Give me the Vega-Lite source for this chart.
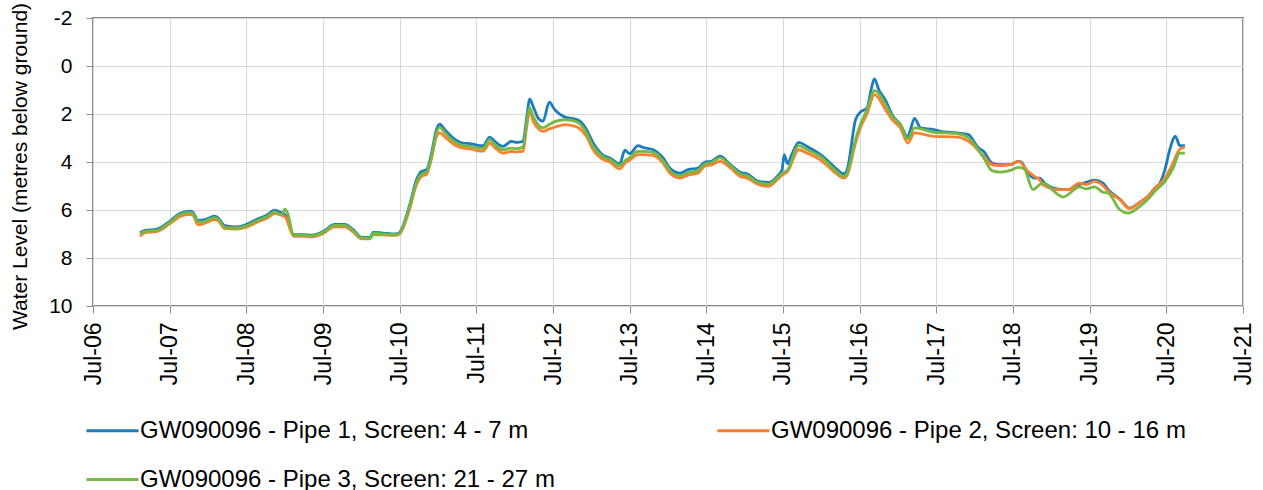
{
  "$schema": "https://vega.github.io/schema/vega-lite/v6.json",
  "width": 1150,
  "height": 288,
  "autosize": {"type": "none"},
  "padding": {"left": 93, "top": 18, "right": 20, "bottom": 184},
  "background": "white",
  "config": {
    "font": "Liberation Sans",
    "view": {"stroke": "#8a8a8a", "strokeWidth": 2},
    "axis": {"domain": false, "gridColor": "#d9d9d9", "gridWidth": 1, "tickColor": "#8a8a8a", "tickSize": 7, "labelColor": "#000000", "titleColor": "#000000"},
    "legend": {"labelColor": "#000000"}
  },
  "datasets": {
    "p1": [
      {"date":"2007-02-10","level":6.95},{"date":"2007-03-03","level":6.86},{"date":"2007-05-01","level":6.80},{"date":"2007-07-01","level":6.47},{"date":"2007-08-18","level":6.15},{"date":"2007-10-05","level":6.05},{"date":"2007-10-20","level":6.10},{"date":"2007-11-14","level":6.43},{"date":"2007-12-16","level":6.40},{"date":"2008-02-01","level":6.26},{"date":"2008-02-17","level":6.33},{"date":"2008-03-20","level":6.65},{"date":"2008-05-15","level":6.70},{"date":"2008-07-01","level":6.60},{"date":"2008-08-18","level":6.40},{"date":"2008-10-05","level":6.22},{"date":"2008-11-14","level":6.01},{"date":"2008-12-15","level":6.12},{"date":"2009-01-01","level":6.20},{"date":"2009-02-12","level":7.03},{"date":"2009-03-28","level":7.03},{"date":"2009-05-08","level":7.05},{"date":"2009-07-01","level":6.90},{"date":"2009-08-25","level":6.60},{"date":"2009-10-12","level":6.60},{"date":"2009-11-22","level":6.82},{"date":"2010-01-01","level":7.14},{"date":"2010-02-10","level":7.14},{"date":"2010-02-25","level":6.93},{"date":"2010-04-12","level":6.96},{"date":"2010-06-15","level":7.00},{"date":"2010-07-01","level":6.93},{"date":"2010-08-18","level":5.78},{"date":"2010-09-19","level":4.74},{"date":"2010-10-13","level":4.39},{"date":"2010-11-06","level":4.32},{"date":"2010-11-30","level":3.63},{"date":"2010-12-23","level":2.65},{"date":"2011-01-08","level":2.42},{"date":"2011-02-01","level":2.65},{"date":"2011-03-13","level":3.00},{"date":"2011-04-30","level":3.21},{"date":"2011-06-09","level":3.24},{"date":"2011-07-17","level":3.32},{"date":"2011-08-03","level":3.32},{"date":"2011-09-03","level":2.96},{"date":"2011-09-27","level":3.14},{"date":"2011-11-06","level":3.35},{"date":"2011-12-15","level":3.14},{"date":"2012-01-08","level":3.18},{"date":"2012-02-09","level":3.14},{"date":"2012-02-25","level":2.24},{"date":"2012-03-12","level":1.38},{"date":"2012-03-28","level":1.68},{"date":"2012-04-21","level":2.17},{"date":"2012-05-14","level":2.30},{"date":"2012-06-13","level":1.51},{"date":"2012-07-09","level":1.82},{"date":"2012-08-26","level":2.13},{"date":"2012-10-13","level":2.21},{"date":"2012-11-06","level":2.30},{"date":"2012-12-07","level":2.65},{"date":"2013-01-08","level":3.21},{"date":"2013-02-25","level":3.72},{"date":"2013-03-28","level":3.83},{"date":"2013-05-15","level":4.07},{"date":"2013-06-08","level":3.51},{"date":"2013-07-01","level":3.65},{"date":"2013-08-10","level":3.32},{"date":"2013-09-01","level":3.39},{"date":"2013-10-21","level":3.49},{"date":"2013-12-07","level":3.83},{"date":"2014-01-08","level":4.25},{"date":"2014-02-25","level":4.46},{"date":"2014-04-05","level":4.32},{"date":"2014-05-23","level":4.25},{"date":"2014-06-23","level":4.01},{"date":"2014-07-25","level":3.97},{"date":"2014-09-04","level":3.76},{"date":"2014-10-24","level":4.11},{"date":"2014-12-10","level":4.43},{"date":"2015-01-11","level":4.49},{"date":"2015-03-08","level":4.81},{"date":"2015-04-25","level":4.85},{"date":"2015-06-04","level":4.60},{"date":"2015-06-27","level":4.32},{"date":"2015-07-07","level":3.69},{"date":"2015-07-23","level":4.07},{"date":"2015-08-12","level":3.69},{"date":"2015-09-14","level":3.18},{"date":"2015-10-24","level":3.35},{"date":"2016-01-04","level":3.74},{"date":"2016-02-28","level":4.18},{"date":"2016-04-16","level":4.49},{"date":"2016-05-02","level":4.32},{"date":"2016-06-11","level":2.24},{"date":"2016-07-04","level":1.92},{"date":"2016-08-05","level":1.75},{"date":"2016-08-24","level":0.99},{"date":"2016-09-09","level":0.54},{"date":"2016-09-30","level":0.99},{"date":"2016-11-01","level":1.43},{"date":"2016-12-02","level":2.03},{"date":"2017-01-11","level":2.44},{"date":"2017-02-15","level":2.96},{"date":"2017-02-28","level":2.65},{"date":"2017-03-19","level":2.18},{"date":"2017-04-17","level":2.58},{"date":"2017-06-19","level":2.65},{"date":"2017-07-20","level":2.72},{"date":"2017-10-08","level":2.79},{"date":"2017-12-02","level":2.86},{"date":"2017-12-26","level":3.14},{"date":"2018-01-19","level":3.42},{"date":"2018-02-12","level":3.56},{"date":"2018-03-23","level":4.04},{"date":"2018-05-02","level":4.11},{"date":"2018-06-19","level":4.11},{"date":"2018-07-28","level":3.97},{"date":"2018-08-09","level":4.00},{"date":"2018-09-10","level":4.46},{"date":"2018-10-12","level":4.67},{"date":"2018-11-05","level":4.67},{"date":"2018-11-29","level":4.88},{"date":"2019-02-01","level":5.13},{"date":"2019-03-20","level":5.15},{"date":"2019-05-15","level":4.94},{"date":"2019-06-15","level":4.85},{"date":"2019-07-25","level":4.76},{"date":"2019-09-03","level":4.88},{"date":"2019-09-27","level":5.15},{"date":"2019-11-22","level":5.54},{"date":"2020-01-08","level":5.92},{"date":"2020-02-25","level":5.68},{"date":"2020-04-05","level":5.43},{"date":"2020-05-07","level":5.08},{"date":"2020-05-31","level":4.88},{"date":"2020-06-24","level":4.32},{"date":"2020-07-17","level":3.49},{"date":"2020-08-13","level":2.93},{"date":"2020-09-03","level":3.32},{"date":"2020-09-27","level":3.32}
    ],
    "p2": [
      {"date":"2007-02-10","level":7.10},{"date":"2007-03-03","level":6.95},{"date":"2007-05-01","level":6.90},{"date":"2007-07-01","level":6.58},{"date":"2007-08-18","level":6.28},{"date":"2007-10-05","level":6.18},{"date":"2007-10-20","level":6.22},{"date":"2007-11-14","level":6.62},{"date":"2007-12-16","level":6.55},{"date":"2008-02-01","level":6.40},{"date":"2008-02-17","level":6.45},{"date":"2008-03-20","level":6.78},{"date":"2008-05-15","level":6.80},{"date":"2008-07-01","level":6.72},{"date":"2008-08-18","level":6.52},{"date":"2008-10-05","level":6.35},{"date":"2008-11-14","level":6.15},{"date":"2008-12-15","level":6.22},{"date":"2009-01-01","level":6.28},{"date":"2009-02-12","level":7.10},{"date":"2009-03-28","level":7.10},{"date":"2009-05-08","level":7.12},{"date":"2009-07-01","level":6.98},{"date":"2009-08-25","level":6.70},{"date":"2009-10-12","level":6.70},{"date":"2009-11-22","level":6.92},{"date":"2010-01-01","level":7.20},{"date":"2010-02-10","level":7.20},{"date":"2010-02-25","level":7.02},{"date":"2010-04-12","level":7.04},{"date":"2010-06-15","level":7.06},{"date":"2010-07-01","level":7.00},{"date":"2010-08-18","level":5.95},{"date":"2010-09-19","level":4.95},{"date":"2010-10-13","level":4.60},{"date":"2010-11-06","level":4.52},{"date":"2010-11-30","level":3.85},{"date":"2010-12-23","level":2.95},{"date":"2011-01-08","level":2.79},{"date":"2011-02-01","level":2.95},{"date":"2011-03-13","level":3.25},{"date":"2011-04-30","level":3.42},{"date":"2011-06-09","level":3.46},{"date":"2011-07-17","level":3.55},{"date":"2011-08-03","level":3.55},{"date":"2011-09-03","level":3.21},{"date":"2011-09-27","level":3.40},{"date":"2011-11-06","level":3.63},{"date":"2011-12-15","level":3.56},{"date":"2012-01-08","level":3.58},{"date":"2012-02-09","level":3.56},{"date":"2012-02-25","level":2.60},{"date":"2012-03-12","level":1.90},{"date":"2012-03-28","level":2.30},{"date":"2012-04-21","level":2.60},{"date":"2012-05-14","level":2.72},{"date":"2012-06-13","level":2.62},{"date":"2012-07-09","level":2.55},{"date":"2012-08-26","level":2.44},{"date":"2012-10-13","level":2.51},{"date":"2012-11-06","level":2.62},{"date":"2012-12-07","level":2.93},{"date":"2013-01-08","level":3.49},{"date":"2013-02-25","level":3.90},{"date":"2013-03-28","level":4.00},{"date":"2013-05-15","level":4.29},{"date":"2013-06-08","level":4.05},{"date":"2013-07-01","level":3.92},{"date":"2013-08-10","level":3.69},{"date":"2013-09-01","level":3.69},{"date":"2013-10-21","level":3.72},{"date":"2013-12-07","level":4.05},{"date":"2014-01-08","level":4.46},{"date":"2014-02-25","level":4.67},{"date":"2014-04-05","level":4.55},{"date":"2014-05-23","level":4.46},{"date":"2014-06-23","level":4.18},{"date":"2014-07-25","level":4.12},{"date":"2014-09-04","level":3.97},{"date":"2014-10-24","level":4.25},{"date":"2014-12-10","level":4.60},{"date":"2015-01-11","level":4.67},{"date":"2015-03-08","level":4.94},{"date":"2015-04-25","level":5.01},{"date":"2015-06-04","level":4.74},{"date":"2015-06-27","level":4.55},{"date":"2015-07-23","level":4.40},{"date":"2015-09-14","level":3.49},{"date":"2015-10-24","level":3.63},{"date":"2016-01-04","level":3.97},{"date":"2016-02-28","level":4.39},{"date":"2016-04-16","level":4.67},{"date":"2016-05-02","level":4.55},{"date":"2016-06-11","level":3.21},{"date":"2016-07-04","level":2.58},{"date":"2016-08-05","level":1.99},{"date":"2016-09-09","level":1.19},{"date":"2016-11-01","level":1.82},{"date":"2016-12-02","level":2.24},{"date":"2017-01-11","level":2.58},{"date":"2017-02-15","level":3.21},{"date":"2017-03-19","level":2.79},{"date":"2017-06-19","level":2.93},{"date":"2017-10-08","level":2.96},{"date":"2017-12-02","level":3.14},{"date":"2018-02-12","level":3.76},{"date":"2018-03-23","level":4.11},{"date":"2018-05-02","level":4.15},{"date":"2018-06-19","level":4.11},{"date":"2018-07-28","level":3.97},{"date":"2018-09-10","level":4.39},{"date":"2018-10-12","level":4.60},{"date":"2018-11-05","level":4.74},{"date":"2018-11-20","level":4.94},{"date":"2019-02-01","level":5.15},{"date":"2019-03-20","level":5.15},{"date":"2019-05-15","level":4.88},{"date":"2019-06-15","level":4.94},{"date":"2019-07-25","level":4.81},{"date":"2019-09-03","level":4.99},{"date":"2019-09-27","level":5.22},{"date":"2019-11-22","level":5.57},{"date":"2020-01-08","level":5.94},{"date":"2020-02-25","level":5.68},{"date":"2020-04-05","level":5.42},{"date":"2020-05-07","level":5.10},{"date":"2020-06-24","level":4.68},{"date":"2020-08-02","level":4.04},{"date":"2020-09-03","level":3.46},{"date":"2020-09-27","level":3.39}
    ],
    "p3": [
      {"date":"2007-02-10","level":7.00},{"date":"2007-03-03","level":6.90},{"date":"2007-05-01","level":6.85},{"date":"2007-07-01","level":6.52},{"date":"2007-08-18","level":6.20},{"date":"2007-10-05","level":6.10},{"date":"2007-10-20","level":6.15},{"date":"2007-11-14","level":6.50},{"date":"2007-12-16","level":6.47},{"date":"2008-02-01","level":6.32},{"date":"2008-02-17","level":6.38},{"date":"2008-03-20","level":6.72},{"date":"2008-05-15","level":6.75},{"date":"2008-07-01","level":6.66},{"date":"2008-08-18","level":6.46},{"date":"2008-10-05","level":6.28},{"date":"2008-11-14","level":6.08},{"date":"2008-12-15","level":6.20},{"date":"2009-01-01","level":5.96},{"date":"2009-01-12","level":6.10},{"date":"2009-02-12","level":7.06},{"date":"2009-03-28","level":7.06},{"date":"2009-05-08","level":7.08},{"date":"2009-07-01","level":6.94},{"date":"2009-08-25","level":6.64},{"date":"2009-10-12","level":6.64},{"date":"2009-11-22","level":6.86},{"date":"2010-01-01","level":7.17},{"date":"2010-02-10","level":7.17},{"date":"2010-02-25","level":6.97},{"date":"2010-04-12","level":7.00},{"date":"2010-06-15","level":7.03},{"date":"2010-07-01","level":6.96},{"date":"2010-08-18","level":5.85},{"date":"2010-09-19","level":4.85},{"date":"2010-10-13","level":4.50},{"date":"2010-11-06","level":4.42},{"date":"2010-11-30","level":3.75},{"date":"2010-12-23","level":2.80},{"date":"2011-01-08","level":2.55},{"date":"2011-02-01","level":2.78},{"date":"2011-03-13","level":3.12},{"date":"2011-04-30","level":3.32},{"date":"2011-06-09","level":3.35},{"date":"2011-07-17","level":3.43},{"date":"2011-08-03","level":3.43},{"date":"2011-09-03","level":3.07},{"date":"2011-09-27","level":3.28},{"date":"2011-11-06","level":3.49},{"date":"2011-12-15","level":3.42},{"date":"2012-01-08","level":3.44},{"date":"2012-02-09","level":3.38},{"date":"2012-02-25","level":2.45},{"date":"2012-03-12","level":1.75},{"date":"2012-03-28","level":2.10},{"date":"2012-04-21","level":2.45},{"date":"2012-05-14","level":2.58},{"date":"2012-06-13","level":2.44},{"date":"2012-07-09","level":2.32},{"date":"2012-08-26","level":2.24},{"date":"2012-10-13","level":2.30},{"date":"2012-11-06","level":2.42},{"date":"2012-12-07","level":2.79},{"date":"2013-01-08","level":3.35},{"date":"2013-02-25","level":3.79},{"date":"2013-03-28","level":3.90},{"date":"2013-05-15","level":4.15},{"date":"2013-06-08","level":3.95},{"date":"2013-07-01","level":3.82},{"date":"2013-08-10","level":3.56},{"date":"2013-09-01","level":3.56},{"date":"2013-10-21","level":3.60},{"date":"2013-12-07","level":3.95},{"date":"2014-01-08","level":4.35},{"date":"2014-02-25","level":4.57},{"date":"2014-04-05","level":4.45},{"date":"2014-05-23","level":4.35},{"date":"2014-06-23","level":4.08},{"date":"2014-07-25","level":4.02},{"date":"2014-09-04","level":3.83},{"date":"2014-10-24","level":4.15},{"date":"2014-12-10","level":4.50},{"date":"2015-01-11","level":4.57},{"date":"2015-03-08","level":4.86},{"date":"2015-04-25","level":4.92},{"date":"2015-06-04","level":4.67},{"date":"2015-06-27","level":4.47},{"date":"2015-07-23","level":4.33},{"date":"2015-09-14","level":3.32},{"date":"2015-10-24","level":3.49},{"date":"2016-01-04","level":3.83},{"date":"2016-02-28","level":4.29},{"date":"2016-04-16","level":4.60},{"date":"2016-05-02","level":4.47},{"date":"2016-06-11","level":3.07},{"date":"2016-07-04","level":2.44},{"date":"2016-08-05","level":1.82},{"date":"2016-09-09","level":1.03},{"date":"2016-11-01","level":1.61},{"date":"2016-12-02","level":2.10},{"date":"2017-01-11","level":2.44},{"date":"2017-02-15","level":3.04},{"date":"2017-03-19","level":2.58},{"date":"2017-06-19","level":2.76},{"date":"2017-10-08","level":2.82},{"date":"2017-12-02","level":3.00},{"date":"2018-02-12","level":3.83},{"date":"2018-03-23","level":4.36},{"date":"2018-05-02","level":4.42},{"date":"2018-06-19","level":4.35},{"date":"2018-07-28","level":4.22},{"date":"2018-08-24","level":4.29},{"date":"2018-10-04","level":5.15},{"date":"2018-11-20","level":4.88},{"date":"2019-02-01","level":5.36},{"date":"2019-02-24","level":5.46},{"date":"2019-05-15","level":5.04},{"date":"2019-06-15","level":5.12},{"date":"2019-07-25","level":5.04},{"date":"2019-09-03","level":5.26},{"date":"2019-09-27","level":5.29},{"date":"2019-11-22","level":5.99},{"date":"2020-01-01","level":6.13},{"date":"2020-02-25","level":5.85},{"date":"2020-04-05","level":5.54},{"date":"2020-05-07","level":5.22},{"date":"2020-06-24","level":4.81},{"date":"2020-08-02","level":4.25},{"date":"2020-09-03","level":3.63},{"date":"2020-09-27","level":3.63}
    ]
  },
  "encoding": {
    "x": {
      "field": "date", "type": "temporal",
      "scale": {"domain": [{"year": 2006, "month": 7, "date": 1}, {"year": 2021, "month": 7, "date": 1}]},
      "axis": {
        "title": null, "format": "%b-%y", "labelAngle": -90, "labelFontSize": 23, "labelPadding": 9, "labelFlush": false, "labelOverlap": false,
        "values": [{"year":2006,"month":7,"date":1},{"year":2007,"month":7,"date":1},{"year":2008,"month":7,"date":1},{"year":2009,"month":7,"date":1},{"year":2010,"month":7,"date":1},{"year":2011,"month":7,"date":1},{"year":2012,"month":7,"date":1},{"year":2013,"month":7,"date":1},{"year":2014,"month":7,"date":1},{"year":2015,"month":7,"date":1},{"year":2016,"month":7,"date":1},{"year":2017,"month":7,"date":1},{"year":2018,"month":7,"date":1},{"year":2019,"month":7,"date":1},{"year":2020,"month":7,"date":1},{"year":2021,"month":7,"date":1}]
      }
    },
    "y": {
      "field": "level", "type": "quantitative",
      "scale": {"domain": [-2, 10], "reverse": true, "nice": false, "zero": false},
      "axis": {
        "title": "Water Level (metres below ground)", "titleFontSize": 21, "titleFontWeight": "normal",
        "titleAngle": -90, "titleX": -84, "titleY": 148, "titleBaseline": "top", "titleAlign": "center",
        "values": [-2, 0, 2, 4, 6, 8, 10], "labelExpr": "toString(datum.value)", "labelFontSize": 21, "labelPadding": 14
      }
    },
    "color": {
      "field": "series", "type": "nominal",
      "scale": {
        "domain": ["GW090096 - Pipe 1, Screen: 4 - 7 m", "GW090096 - Pipe 2, Screen: 10 - 16 m", "GW090096 - Pipe 3, Screen: 21 - 27 m"],
        "range": ["#1b7dc0", "#ff7f2a", "#76b843"]
      },
      "legend": {
        "title": null, "orient": "none", "legendX": -8, "legendY": 385, "direction": "horizontal", "columns": 2,
        "symbolType": "stroke", "symbolSize": 2704, "symbolStrokeWidth": 3, "labelFontSize": 24, "labelOffset": 0,
        "labelLimit": 600, "columnPadding": 156, "rowPadding": 9
      }
    }
  },
  "layer": [
    {
      "data": {"name": "p1"},
      "transform": [{"calculate": "'GW090096 - Pipe 1, Screen: 4 - 7 m'", "as": "series"}],
      "mark": {"type": "line", "strokeWidth": 2.8, "interpolate": "monotone"}
    },
    {
      "data": {"name": "p2"},
      "transform": [{"calculate": "'GW090096 - Pipe 2, Screen: 10 - 16 m'", "as": "series"}],
      "mark": {"type": "line", "strokeWidth": 2.8, "interpolate": "monotone"}
    },
    {
      "data": {"name": "p3"},
      "transform": [{"calculate": "'GW090096 - Pipe 3, Screen: 21 - 27 m'", "as": "series"}],
      "mark": {"type": "line", "strokeWidth": 2.8, "interpolate": "monotone"}
    }
  ]
}
